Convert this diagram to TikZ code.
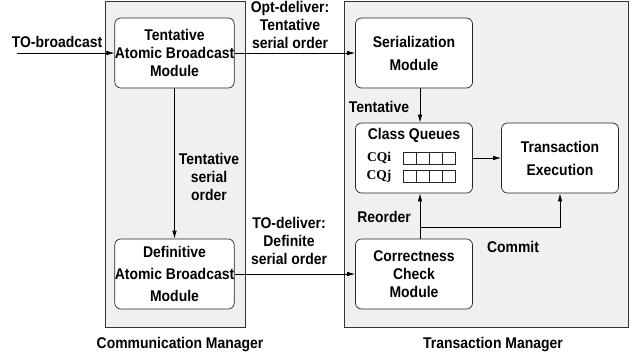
\documentclass[tikz,border=0pt]{standalone}
\usepackage{fontspec}
\setmainfont{Liberation Sans}[FakeStretch=0.9]
\newfontfamily\queuefont{Liberation Serif}
\usetikzlibrary{arrows.meta,positioning,calc}
\definecolor{panel}{RGB}{240,240,240}

\begin{document}
\begin{tikzpicture}[x=1pt, y=-1pt,
    every node/.style={font=\fontsize{15.5}{18}\selectfont\bfseries},
    manager/.style={draw=black!80, fill=panel, line width=0.8pt, inner sep=0},
    module/.style={draw=black!85, fill=white, rounded corners=6pt, line width=0.7pt,
        minimum width=117pt, minimum height=70pt, inner sep=0, align=center},
    lbl/.style={align=center, inner sep=0},
    cell/.style={draw=black!85, line width=0.6pt, minimum width=13pt, minimum height=12pt, inner sep=0},
    arr/.style={-{Latex[length=8pt,width=4.5pt]}, line width=0.7pt}]
\useasboundingbox (0,0) rectangle (637,360);

% the two managers
\node[manager, minimum width=140pt, minimum height=326pt] (cm) at (175,164) {};
\node[manager, minimum width=284pt, minimum height=326pt] (tm) at (486,164) {};
\node[lbl] (cmname) at (180,345) {Communication Manager};
\node[lbl] (tmname) at (493,345) {Transaction Manager};

% communication manager modules
\node[module] (tab) at (174.5,53) {Tentative\\Atomic Broadcast\\Module};
\node[module] (dab) at (174.5,274) {Definitive\\[4pt]Atomic Broadcast\\[4pt]Module};

% transaction manager modules
\node[module] (ser) at (414,53) {Serialization\\[5pt]Module};
\node[module] (cq) at (414,158) {};
\node[module] (te) at (560,158) {Transaction\\[5pt]Execution};
\node[module] (cc) at (414,274) {Correctness\\Check\\Module};

% class queues
\node[lbl, below=5pt of cq.north] (cqtitle) {Class Queues};
\node[lbl, font=\queuefont\fontsize{13.5}{15}\selectfont\bfseries] (cqi) at (379,158) {CQi};
\node[lbl, font=\queuefont\fontsize{13.5}{15}\selectfont\bfseries] (cqj) at (379,176) {CQj};
\foreach \i in {0,...,3} {
  \node[cell] (cqi\i) at (409.5+13*\i,158) {};
  \node[cell] (cqj\i) at (409.5+13*\i,176) {};
}

% connectors
\coordinate (src) at (17,53);
\coordinate (fork) at ([xshift=6pt,yshift=11pt]cc.north);
\draw[arr] (src) -- (tab.west);
\draw[arr] (tab.east) -- (ser.west);
\draw[arr] (tab.south) -- (dab.north);
\draw[arr] (dab.east) -- (cc.west);
\draw[arr] ([xshift=6pt]ser.south) -- ([xshift=6pt]cq.north);
\draw[arr] (cq.east) -- (te.west);
\draw[arr] ([xshift=6pt]cc.north) -- ([xshift=6pt]cq.south);
\draw[arr] (fork) -| (te.south);

% connector labels
\node[lbl] (bcast) at (57,42) {TO-broadcast};
\node[lbl] (optdel) at (290,25) {Opt-deliver:\\Tentative\\serial order};
\node[lbl] (tentord) at (209,177) {Tentative\\serial\\order};
\node[lbl] (todel) at (289,241) {TO-deliver:\\Definite\\serial order};
\node[lbl] (tent) at (379,107) {Tentative};
\node[lbl] (reord) at (384,217) {Reorder};
\node[lbl] (commit) at (513,247) {Commit};
\end{tikzpicture}
\end{document}
